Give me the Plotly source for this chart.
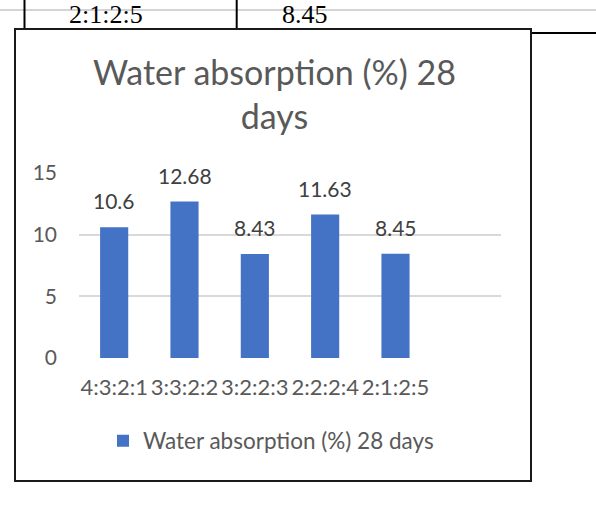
import plotly.graph_objects as go

# Mix proportions and 28-day water absorption results
mixes = ["4:3:2:1", "3:3:2:2", "3:2:2:3", "2:2:2:4", "2:1:2:5"]
absorption = [10.6, 12.68, 8.43, 11.63, 8.45]
series_name = "Water absorption (%) 28 days"
y_ticks = [0, 5, 10, 15]

# Table row above the chart (last row of the data table)
table_row = ["2:1:2:5", "8.45"]

W, H = 596, 512
FONT = "Lato"
GREY_TEXT = "#595959"
LABEL_TEXT = "#404040"
BAR_BLUE = "#4472C4"


def px(x):
    return x / W


def py(y):
    return 1 - y / H


fig = go.Figure()
fig.add_trace(go.Bar(
    x=mixes,
    y=absorption,
    name=series_name,
    marker=dict(color=BAR_BLUE, line=dict(width=0)),
    width=0.4,
    showlegend=True,
))

# Value labels above each bar
annotations = []
for m, v in zip(mixes, absorption):
    annotations.append(dict(
        x=m, y=v, xref="x", yref="y", text=f"{v:g}",
        showarrow=False, yanchor="bottom", yshift=12,
        font=dict(family=FONT, size=21, color=LABEL_TEXT),
    ))

# Chart title
annotations.append(dict(
    x=px(274), y=py(49), xref="paper", yref="paper",
    text="Water absorption (%) 28<br>days", showarrow=False,
    xanchor="center", yanchor="top", align="center",
    font=dict(family=FONT, size=34, color=GREY_TEXT),
))

# Text in the table cells above the chart
annotations.append(dict(
    x=px(67), y=py(14), xref="paper", yref="paper", text=table_row[0],
    showarrow=False, xanchor="left", yanchor="middle",
    font=dict(family="Liberation Serif", size=26, color="#000000"),
))
annotations.append(dict(
    x=px(280), y=py(14), xref="paper", yref="paper", text=table_row[1],
    showarrow=False, xanchor="left", yanchor="middle",
    font=dict(family="Liberation Serif", size=26, color="#000000"),
))

shapes = [
    # light page rule across the top
    dict(type="line", xref="paper", yref="paper", x0=0, x1=1,
         y0=py(10), y1=py(10), line=dict(color="#d4d4d4", width=2)),
    # table cell borders
    dict(type="line", xref="paper", yref="paper", x0=px(24.5), x1=px(24.5),
         y0=py(0), y1=py(29), line=dict(color="#000000", width=2)),
    dict(type="line", xref="paper", yref="paper", x0=px(236.7), x1=px(236.7),
         y0=py(0), y1=py(29), line=dict(color="#000000", width=2)),
    dict(type="line", xref="paper", yref="paper", x0=px(531), x1=1,
         y0=py(33), y1=py(33), line=dict(color="#000000", width=2)),
    # chart frame
    dict(type="rect", xref="paper", yref="paper", x0=px(15), x1=px(531),
         y0=py(481), y1=py(29), line=dict(color="#1a1a1a", width=2),
         fillcolor="rgba(0,0,0,0)"),
]

fig.update_layout(
    template="none",
    width=W, height=H,
    margin=dict(l=0, r=0, t=0, b=0, pad=0, autoexpand=False),
    paper_bgcolor="white", plot_bgcolor="white",
    font=dict(family=FONT, color=GREY_TEXT),
    xaxis=dict(
        domain=[px(79), px(501)],
        type="category", range=[-0.5, 5.5],
        showgrid=False, zeroline=False, showline=False, ticks="",
        automargin=False, tickangle=0,
        ticklabelstandoff=14,
        tickfont=dict(family=FONT, size=22, color=GREY_TEXT),
        fixedrange=True,
    ),
    yaxis=dict(
        domain=[py(358), py(173)],
        range=[0, 15], tickvals=y_ticks,
        showgrid=True, gridcolor="#d9d9d9", gridwidth=1.5,
        zeroline=False, showline=False, ticks="",
        automargin=False,
        ticklabelstandoff=21,
        tickfont=dict(family=FONT, size=21, color=GREY_TEXT),
        fixedrange=True,
    ),
    legend=dict(
        orientation="h", x=px(103), y=py(441), xanchor="left", yanchor="middle",
        font=dict(family=FONT, size=22.5, color=GREY_TEXT),
        bgcolor="rgba(0,0,0,0)",
    ),
    annotations=annotations,
    shapes=shapes,
    bargap=0.6,
)

fig.write_html("out.html")
